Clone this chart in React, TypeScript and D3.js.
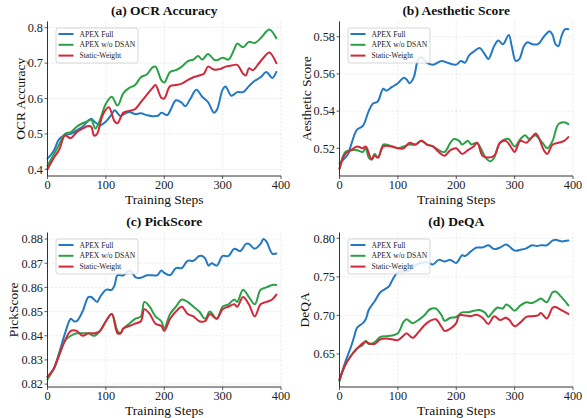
import React from "react";
import * as d3 from "d3";

type Pt = [number, number];

const seriesNames = ["APEX Full", "APEX w/o DSAN", "Static-Weight"];
const seriesColors = ["#2479c2", "#2aa147", "#d2283a"];
const xTicks = [0, 100, 200, 300, 400];

// (a) OCR Accuracy
const ocrFull: Pt[] = [[0,0.43],[10,0.45],[20,0.485],[30,0.497],[40,0.5],[50,0.51],[60,0.52],[70,0.538],[75,0.543],[80,0.535],[90,0.525],[100,0.535],[110,0.555],[115,0.567],[125,0.55],[130,0.555],[140,0.562],[150,0.556],[160,0.558],[170,0.553],[180,0.55],[190,0.552],[195,0.56],[205,0.553],[212,0.572],[220,0.595],[230,0.588],[236,0.578],[245,0.6],[255,0.625],[265,0.605],[275,0.59],[285,0.56],[290,0.567],[300,0.625],[305,0.634],[315,0.608],[325,0.618],[335,0.618],[345,0.635],[355,0.65],[365,0.66],[375,0.675],[385,0.658],[392,0.675]];
const ocrNoDsan: Pt[] = [[0,0.41],[10,0.44],[20,0.47],[30,0.5],[40,0.505],[50,0.52],[60,0.53],[70,0.537],[75,0.54],[82,0.515],[90,0.54],[100,0.585],[110,0.605],[120,0.58],[130,0.615],[140,0.63],[150,0.638],[160,0.66],[170,0.668],[180,0.688],[185,0.69],[195,0.652],[200,0.645],[210,0.675],[220,0.68],[230,0.69],[240,0.705],[250,0.71],[258,0.72],[265,0.71],[275,0.726],[285,0.71],[290,0.708],[300,0.715],[310,0.71],[320,0.74],[325,0.755],[335,0.745],[345,0.76],[355,0.757],[365,0.77],[380,0.795],[392,0.77]];
const ocrStatic: Pt[] = [[0,0.4],[10,0.43],[20,0.455],[30,0.495],[40,0.488],[50,0.505],[60,0.515],[70,0.522],[75,0.52],[80,0.495],[85,0.5],[95,0.555],[105,0.575],[115,0.535],[120,0.53],[130,0.56],[140,0.565],[150,0.57],[160,0.59],[170,0.61],[180,0.63],[185,0.638],[195,0.602],[200,0.6],[210,0.635],[220,0.638],[230,0.642],[240,0.652],[250,0.66],[260,0.665],[268,0.67],[275,0.69],[285,0.682],[295,0.683],[305,0.69],[315,0.693],[325,0.695],[335,0.67],[340,0.665],[345,0.685],[352,0.68],[360,0.695],[370,0.715],[380,0.73],[392,0.7]];

// (b) Aesthetic Score
const aesFull: Pt[] = [[0,0.512],[10,0.515],[15,0.517],[20,0.522],[30,0.53],[40,0.532],[50,0.54],[57,0.544],[65,0.545],[75,0.552],[80,0.551],[90,0.553],[100,0.555],[110,0.558],[115,0.557],[120,0.555],[127,0.558],[135,0.568],[140,0.569],[150,0.566],[160,0.565],[175,0.567],[185,0.566],[200,0.565],[208,0.567],[215,0.566],[222,0.57],[230,0.572],[240,0.574],[250,0.57],[255,0.568],[265,0.575],[272,0.578],[280,0.576],[290,0.581],[295,0.575],[302,0.567],[308,0.568],[316,0.575],[322,0.577],[330,0.576],[340,0.576],[350,0.58],[360,0.583],[365,0.581],[370,0.576],[375,0.575],[380,0.58],[386,0.584],[392,0.584]];
const aesNoDsan: Pt[] = [[0,0.509],[10,0.518],[20,0.519],[30,0.519],[40,0.518],[45,0.52],[50,0.515],[55,0.514],[60,0.517],[66,0.515],[75,0.522],[80,0.522],[90,0.521],[100,0.52],[110,0.521],[120,0.522],[130,0.522],[140,0.524],[150,0.522],[160,0.521],[170,0.519],[180,0.518],[190,0.523],[196,0.525],[205,0.524],[210,0.522],[220,0.524],[226,0.522],[235,0.523],[242,0.52],[250,0.515],[259,0.513],[265,0.515],[275,0.523],[285,0.525],[290,0.525],[300,0.521],[310,0.525],[318,0.527],[325,0.525],[335,0.527],[340,0.526],[350,0.522],[356,0.52],[365,0.524],[375,0.533],[385,0.534],[392,0.533]];
const aesStatic: Pt[] = [[0,0.509],[10,0.517],[20,0.519],[30,0.521],[40,0.52],[45,0.521],[55,0.514],[60,0.516],[66,0.515],[75,0.521],[90,0.521],[100,0.52],[110,0.52],[120,0.523],[130,0.522],[140,0.524],[150,0.522],[160,0.521],[170,0.518],[180,0.516],[190,0.519],[200,0.52],[210,0.517],[220,0.519],[230,0.521],[236,0.523],[245,0.516],[255,0.515],[265,0.516],[275,0.523],[285,0.524],[295,0.52],[300,0.518],[310,0.524],[320,0.523],[330,0.526],[336,0.528],[341,0.526],[350,0.519],[356,0.517],[365,0.522],[375,0.523],[385,0.524],[392,0.526]];

// (c) PickScore
const pickFull: Pt[] = [[0,0.823],[10,0.826],[20,0.833],[30,0.841],[40,0.847],[45,0.846],[50,0.846],[60,0.85],[70,0.856],[75,0.856],[85,0.854],[90,0.856],[100,0.859],[110,0.859],[115,0.861],[120,0.865],[130,0.865],[140,0.867],[145,0.866],[152,0.864],[160,0.864],[170,0.865],[180,0.865],[188,0.865],[195,0.867],[200,0.866],[210,0.865],[220,0.868],[230,0.868],[240,0.871],[250,0.871],[260,0.873],[265,0.873],[270,0.872],[276,0.869],[281,0.87],[290,0.869],[300,0.873],[310,0.873],[320,0.876],[330,0.875],[340,0.878],[345,0.878],[355,0.876],[365,0.878],[370,0.88],[375,0.879],[385,0.874],[392,0.874]];
const pickNoDsan: Pt[] = [[0,0.822],[10,0.826],[20,0.832],[30,0.838],[40,0.84],[50,0.841],[60,0.841],[70,0.841],[80,0.84],[90,0.842],[100,0.846],[110,0.849],[120,0.842],[125,0.841],[130,0.843],[140,0.845],[150,0.847],[160,0.848],[166,0.854],[175,0.852],[185,0.848],[195,0.846],[200,0.843],[210,0.849],[220,0.852],[230,0.855],[240,0.854],[250,0.852],[260,0.85],[270,0.847],[278,0.85],[290,0.847],[300,0.852],[310,0.853],[320,0.855],[325,0.854],[335,0.859],[345,0.856],[355,0.853],[365,0.859],[375,0.86],[385,0.861],[392,0.861]];
const pickStatic: Pt[] = [[0,0.823],[10,0.826],[20,0.832],[30,0.838],[40,0.842],[50,0.842],[60,0.84],[70,0.841],[80,0.841],[90,0.842],[100,0.846],[110,0.849],[120,0.841],[125,0.841],[130,0.843],[140,0.844],[150,0.845],[160,0.846],[166,0.851],[175,0.849],[185,0.845],[195,0.844],[200,0.842],[210,0.847],[220,0.85],[230,0.852],[240,0.849],[250,0.848],[260,0.846],[270,0.846],[278,0.849],[290,0.847],[300,0.851],[310,0.852],[320,0.853],[325,0.852],[335,0.856],[345,0.853],[355,0.848],[365,0.853],[375,0.854],[385,0.855],[392,0.857]];

// (d) DeQA
const deqaFull: Pt[] = [[0,0.615],[10,0.64],[20,0.66],[25,0.672],[30,0.684],[40,0.69],[45,0.695],[50,0.707],[60,0.718],[70,0.73],[80,0.735],[85,0.738],[90,0.745],[100,0.756],[110,0.757],[120,0.758],[130,0.765],[140,0.768],[150,0.769],[160,0.766],[170,0.772],[180,0.77],[190,0.772],[200,0.768],[210,0.778],[215,0.777],[225,0.783],[235,0.788],[245,0.788],[255,0.791],[265,0.786],[275,0.788],[285,0.792],[290,0.79],[300,0.784],[310,0.785],[320,0.787],[330,0.791],[338,0.79],[345,0.791],[355,0.791],[365,0.797],[370,0.798],[380,0.796],[392,0.797]];
const deqaNoDsan: Pt[] = [[0,0.616],[10,0.636],[20,0.648],[30,0.657],[40,0.662],[45,0.667],[50,0.663],[60,0.665],[70,0.672],[80,0.673],[90,0.674],[100,0.677],[110,0.692],[115,0.695],[125,0.69],[135,0.694],[145,0.7],[155,0.708],[165,0.709],[175,0.7],[180,0.693],[190,0.697],[200,0.698],[210,0.704],[220,0.704],[230,0.706],[240,0.707],[250,0.703],[255,0.698],[260,0.702],[270,0.71],[280,0.709],[285,0.714],[291,0.712],[300,0.706],[310,0.713],[320,0.717],[330,0.716],[340,0.72],[345,0.722],[355,0.717],[365,0.73],[370,0.731],[380,0.724],[392,0.713]];
const deqaStatic: Pt[] = [[0,0.617],[10,0.636],[20,0.648],[30,0.657],[40,0.664],[45,0.666],[50,0.664],[60,0.663],[70,0.669],[80,0.67],[90,0.669],[100,0.668],[110,0.674],[115,0.677],[125,0.671],[135,0.678],[145,0.687],[155,0.693],[165,0.695],[175,0.685],[180,0.68],[190,0.683],[200,0.69],[205,0.7],[215,0.7],[225,0.699],[235,0.701],[245,0.697],[255,0.689],[265,0.699],[275,0.694],[285,0.697],[291,0.694],[300,0.686],[310,0.691],[320,0.698],[330,0.699],[340,0.7],[345,0.703],[355,0.696],[365,0.71],[370,0.711],[380,0.707],[392,0.702]];

const ocrTicks = [0.4, 0.5, 0.6, 0.7, 0.8];
const aesTicks = [0.52, 0.54, 0.56, 0.58];
const pickTicks = [0.82, 0.83, 0.84, 0.85, 0.86, 0.87, 0.88];
const deqaTicks = [0.65, 0.7, 0.75, 0.8];

const FONT = "'Liberation Serif', 'Times New Roman', serif";
const PW = 233.5;

interface PanelCfg {
  title: string;
  ylabel: string;
  left: number;
  top: number;
  bottom: number;
  yDomain: [number, number];
  yTicks: number[];
  fmt: string;
  ylabelOffset: number;
  series: Pt[][];
}

const panels: PanelCfg[] = [
  { title: "(a) OCR Accuracy", ylabel: "OCR Accuracy", left: 47.5, top: 21.5, bottom: 176, yDomain: [0.381, 0.8175], yTicks: ocrTicks, fmt: ".1f", ylabelOffset: 27.5, series: [ocrFull, ocrNoDsan, ocrStatic] },
  { title: "(b) Aesthetic Score", ylabel: "Aesthetic Score", left: 339.5, top: 21.5, bottom: 176, yDomain: [0.5051, 0.5882], yTicks: aesTicks, fmt: ".2f", ylabelOffset: 33, series: [aesFull, aesNoDsan, aesStatic] },
  { title: "(c) PickScore", ylabel: "PickScore", left: 47.5, top: 232.5, bottom: 387, yDomain: [0.8188, 0.8827], yTicks: pickTicks, fmt: ".2f", ylabelOffset: 34, series: [pickFull, pickNoDsan, pickStatic] },
  { title: "(d) DeQA", ylabel: "DeQA", left: 339.5, top: 232.5, bottom: 387, yDomain: [0.6072, 0.8075], yTicks: deqaTicks, fmt: ".2f", ylabelOffset: 35, series: [deqaFull, deqaNoDsan, deqaStatic] },
];

function Panel({ cfg }: { cfg: PanelCfg }) {
  const x = d3.scaleLinear().domain([0, 400]).range([cfg.left, cfg.left + PW]);
  const y = d3.scaleLinear().domain(cfg.yDomain).range([cfg.bottom, cfg.top]);
  const line = d3
    .line<Pt>()
    .x((d) => x(d[0]))
    .y((d) => y(d[1]))
    .curve(d3.curveCatmullRom.alpha(0.5));
  const f = d3.format(cfg.fmt);
  const axisColor = "#333";
  const cx = cfg.left + PW / 2;
  const midY = (cfg.top + cfg.bottom) / 2;
  const lgX = cfg.left + 8.5;
  const lgY = cfg.top + 6.5;
  return (
    <g>
      {cfg.yTicks.map((t) => (
        <line key={"gy" + t} x1={cfg.left} x2={cfg.left + PW} y1={y(t)} y2={y(t)} stroke="#d9d9d9" strokeWidth={0.6} strokeDasharray="2,2" />
      ))}
      {xTicks.map((t) => (
        <line key={"gx" + t} x1={x(t)} x2={x(t)} y1={cfg.top} y2={cfg.bottom} stroke="#d9d9d9" strokeWidth={0.6} strokeDasharray="2,2" />
      ))}
      {cfg.series.map((s, i) => (
        <path key={"s" + i} d={line(s) || ""} fill="none" stroke={seriesColors[i]} strokeWidth={2} strokeLinejoin="round" strokeLinecap="round" />
      ))}
      <line x1={cfg.left} x2={cfg.left} y1={cfg.top} y2={cfg.bottom} stroke={axisColor} strokeWidth={1} />
      <line x1={cfg.left} x2={cfg.left + PW} y1={cfg.bottom} y2={cfg.bottom} stroke={axisColor} strokeWidth={1} />
      {cfg.yTicks.map((t) => (
        <g key={"ty" + t}>
          <line x1={cfg.left - 3} x2={cfg.left} y1={y(t)} y2={y(t)} stroke={axisColor} strokeWidth={0.8} />
          <text x={cfg.left - 4.5} y={y(t)} dy="0.35em" textAnchor="end" fontSize={12.3} fontFamily={FONT} fill="#222">
            {f(t)}
          </text>
        </g>
      ))}
      {xTicks.map((t) => (
        <g key={"tx" + t}>
          <line x1={x(t)} x2={x(t)} y1={cfg.bottom} y2={cfg.bottom + 3} stroke={axisColor} strokeWidth={0.8} />
          <text x={x(t)} y={cfg.bottom + 13} textAnchor="middle" fontSize={12.3} fontFamily={FONT} fill="#222">
            {t}
          </text>
        </g>
      ))}
      <text x={cx} y={cfg.top - 7} textAnchor="middle" fontSize={13.5} fontWeight="bold" fontFamily={FONT} fill="#111">
        {cfg.title}
      </text>
      <text x={cx} y={cfg.bottom + 28} textAnchor="middle" fontSize={13.5} fontFamily={FONT} fill="#111">
        Training Steps
      </text>
      <text transform={`translate(${cfg.left - cfg.ylabelOffset},${midY}) rotate(-90)`} textAnchor="middle" dy="0.35em" fontSize={13.5} fontFamily={FONT} fill="#111">
        {cfg.ylabel}
      </text>
      <rect x={lgX} y={lgY} width={82} height={35} rx={2.5} fill="white" fillOpacity={0.85} stroke="#cccccc" strokeWidth={0.8} />
      {seriesNames.map((n, i) => (
        <g key={"lg" + i}>
          <line x1={lgX + 2.5} x2={lgX + 17.5} y1={lgY + 6 + i * 10.8} y2={lgY + 6 + i * 10.8} stroke={seriesColors[i]} strokeWidth={2} />
          <text x={lgX + 23.5} y={lgY + 6 + i * 10.8} dy="0.35em" fontSize={7.6} fontFamily={FONT} fill="#222">
            {n}
          </text>
        </g>
      ))}
    </g>
  );
}

export default function App() {
  return (
    <svg width={587} height={418} style={{ position: "absolute", left: 0, top: 0, background: "white" }}>
      <rect x={0} y={0} width={587} height={418} fill="white" />
      {panels.map((p, i) => (
        <Panel key={i} cfg={p} />
      ))}
    </svg>
  );
}
